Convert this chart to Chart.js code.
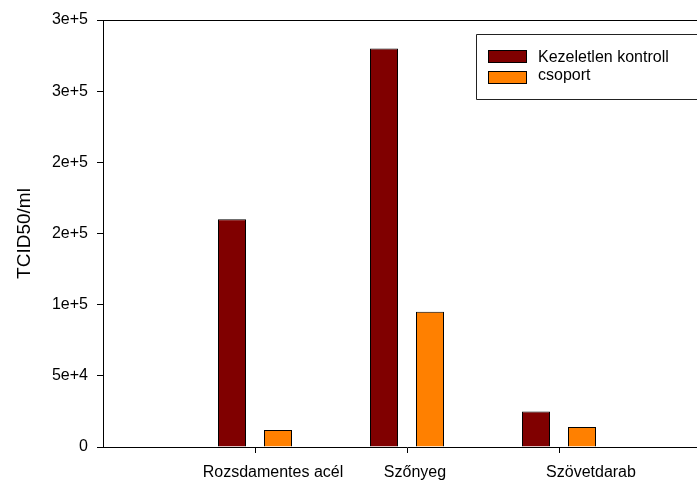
<!DOCTYPE html>
<html>
<head>
<meta charset="utf-8">
<script src="https://cdn.jsdelivr.net/npm/chart.js@4/dist/chart.umd.min.js"></script>
<style>
  html, body { margin: 0; padding: 0; overflow: hidden; background: #ffffff; }
  #wrap { width: 697px; height: 480px; overflow: hidden; }
  canvas { display: block; }
</style>
</head>
<body>
<div id="wrap"><canvas id="chart" width="720" height="480"></canvas></div>
<script>
// Data
const categories = ['Rozsdamentes acél', 'Szőnyeg', 'Szövetdarab'];
const seriesNames = ['Kezeletlen kontroll', 'csoport'];
const controlValues = [160000, 280000, 25000];
const groupValues = [12000, 95000, 14000];
const yTickValues = [0, 50000, 100000, 150000, 200000, 250000, 300000];
const yTickLabels = ['0', '5e+4', '1e+5', '2e+5', '2e+5', '3e+5', '3e+5'];

const FONT = "'Liberation Sans', Arial, sans-serif";
const colors = ['#800000', '#ff8000'];

// empty slot on each side, like the original x range
const labels = [''].concat(categories, ['']);
const pad = arr => [null].concat(arr, [null]);

// shift of each category label relative to its tick (original layout)
const labelShift = [18, 8, 32];

const framePlugin = {
    id: 'frame',
    afterDraw(chart) {
        const ctx = chart.ctx;
        const a = chart.chartArea;
        ctx.save();
        // top border of the plot frame
        ctx.strokeStyle = '#000000';
        ctx.lineWidth = 1;
        ctx.beginPath();
        ctx.moveTo(a.left, Math.round(a.top) + 0.5);
        ctx.lineTo(a.right + 20, Math.round(a.top) + 0.5);
        ctx.stroke();

        // category labels
        const xs = chart.scales.x;
        ctx.fillStyle = '#000000';
        ctx.font = '16px ' + FONT;
        ctx.textAlign = 'center';
        ctx.textBaseline = 'alphabetic';
        categories.forEach((c, i) => {
            const x = xs.getPixelForValue(i + 1) + labelShift[i];
            ctx.fillText(c, x, 477);
        });

        // legend box
        ctx.strokeStyle = '#222222';
        ctx.fillStyle = '#ffffff';
        ctx.beginPath();
        ctx.rect(476.5, 34.5, 260, 65);
        ctx.fill();
        ctx.stroke();
        chart.data.datasets.forEach((ds, i) => {
            const y = i === 0 ? 50.5 : 71.5;
            ctx.fillStyle = ds.backgroundColor;
            ctx.fillRect(488.5, y, 38, 12);
            ctx.strokeStyle = '#000000';
            ctx.strokeRect(488.5, y, 38, 12);
            ctx.fillStyle = '#000000';
            ctx.textAlign = 'left';
            ctx.fillText(ds.label, 538, i === 0 ? 61.5 : 79.5);
        });
        ctx.restore();
    }
};

new Chart(document.getElementById('chart'), {
    type: 'bar',
    data: {
        labels: labels,
        datasets: [
            {
                label: seriesNames[0],
                data: pad(controlValues),
                backgroundColor: colors[0],
                borderColor: '#000000',
                borderWidth: 1
            },
            {
                label: seriesNames[1],
                data: pad(groupValues),
                backgroundColor: colors[1],
                borderColor: '#000000',
                borderWidth: 1
            }
        ]
    },
    options: {
        responsive: false,
        animation: false,
        devicePixelRatio: 1,
        categoryPercentage: 92 / 152,
        barPercentage: 28 / 46,
        layout: { padding: { left: 0, top: 20, right: 9, bottom: 0 } },
        plugins: {
            legend: { display: false },
            tooltip: { enabled: false }
        },
        scales: {
            x: {
                offset: false,
                grid: {
                    offset: false,
                    drawOnChartArea: false,
                    drawTicks: true,
                    tickLength: 6,
                    tickColor: c => (c.index === 0 ? 'rgba(0,0,0,0)' : '#000000')
                },
                border: { color: '#000000', width: 1 },
                ticks: { display: false },
                afterFit: s => { s.height = 33; }
            },
            y: {
                min: 0,
                max: 300000,
                afterBuildTicks: s => { s.ticks = yTickValues.map(v => ({ value: v })); },
                grid: {
                    drawOnChartArea: false,
                    drawTicks: true,
                    tickLength: 6,
                    tickColor: '#000000'
                },
                border: { color: '#000000', width: 1 },
                ticks: {
                    color: '#000000',
                    padding: 9,
                    font: { family: FONT, size: 16 },
                    callback: (v, i) => yTickLabels[i]
                },
                title: {
                    display: true,
                    text: 'TCID50/ml',
                    color: '#000000',
                    font: { family: FONT, size: 19 },
                    padding: { top: 13, bottom: 0 }
                },
                afterFit: s => { s.width = 103; }
            }
        }
    },
    plugins: [framePlugin]
});
</script>
</body>
</html>
